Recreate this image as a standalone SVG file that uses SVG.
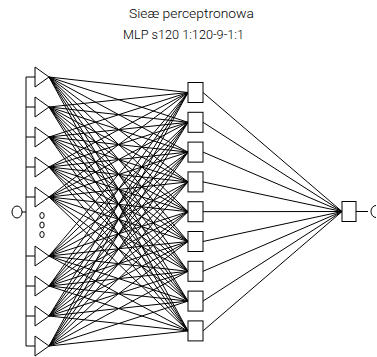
<svg xmlns="http://www.w3.org/2000/svg" width="377" height="357" viewBox="0 0 377 357">
<style>
.t{font-family:Roboto,"Liberation Sans",sans-serif;font-weight:300;font-size:12px;fill:#000}
.n{fill:#fff;stroke:#000;stroke-width:1}
.c{fill:none;stroke:#000;stroke-width:1}
</style>
<rect width="377" height="357" fill="#fff"/>
<g id="title">
<text class="t" x="129" y="18" textLength="125" lengthAdjust="spacingAndGlyphs">Sieæ perceptronowa</text>
<text class="t" x="123" y="39" textLength="121" lengthAdjust="spacingAndGlyphs">MLP s120 1:120-9-1:1</text>
</g>
<g id="connectors" class="c">
<path d="M49 77L188 92.5M49 77L188 122.3M49 77L188 152.1M49 77L188 181.9M49 77L188 211.7M49 77L188 241.5M49 77L188 271.3M49 77L188 301.1M49 77L188 330.9"/>
<path d="M49 107L188 92.5M49 107L188 122.3M49 107L188 152.1M49 107L188 181.9M49 107L188 211.7M49 107L188 241.5M49 107L188 271.3M49 107L188 301.1M49 107L188 330.9"/>
<path d="M49 137L188 92.5M49 137L188 122.3M49 137L188 152.1M49 137L188 181.9M49 137L188 211.7M49 137L188 241.5M49 137L188 271.3M49 137L188 301.1M49 137L188 330.9"/>
<path d="M49 167L188 92.5M49 167L188 122.3M49 167L188 152.1M49 167L188 181.9M49 167L188 211.7M49 167L188 241.5M49 167L188 271.3M49 167L188 301.1M49 167L188 330.9"/>
<path d="M49 197L188 92.5M49 197L188 122.3M49 197L188 152.1M49 197L188 181.9M49 197L188 211.7M49 197L188 241.5M49 197L188 271.3M49 197L188 301.1M49 197L188 330.9"/>
<path d="M49 256L188 92.5M49 256L188 122.3M49 256L188 152.1M49 256L188 181.9M49 256L188 211.7M49 256L188 241.5M49 256L188 271.3M49 256L188 301.1M49 256L188 330.9"/>
<path d="M49 286L188 92.5M49 286L188 122.3M49 286L188 152.1M49 286L188 181.9M49 286L188 211.7M49 286L188 241.5M49 286L188 271.3M49 286L188 301.1M49 286L188 330.9"/>
<path d="M49 316L188 92.5M49 316L188 122.3M49 316L188 152.1M49 316L188 181.9M49 316L188 211.7M49 316L188 241.5M49 316L188 271.3M49 316L188 301.1M49 316L188 330.9"/>
<path d="M49 346L188 92.5M49 346L188 122.3M49 346L188 152.1M49 346L188 181.9M49 346L188 211.7M49 346L188 241.5M49 346L188 271.3M49 346L188 301.1M49 346L188 330.9"/>
<path d="M203 92.5L342 211.5M203 122.3L342 211.5M203 152.1L342 211.5M203 181.9L342 211.5M203 211.7L342 211.5M203 241.5L342 211.5M203 271.3L342 211.5M203 301.1L342 211.5M203 330.9L342 211.5"/>
<path d="M26 77V346M26 77H35M26 107H35M26 137H35M26 167H35M26 197H35M26 256H35M26 286H35M26 316H35M26 346H35M22 212H26"/>
<path d="M356 211.5H368"/>
</g>
<g id="input-circle"><ellipse class="n" cx="17" cy="212" rx="5" ry="6"/></g>
<g id="ellipsis" class="c">
<ellipse cx="42" cy="215.5" rx="2.2" ry="3"/>
<ellipse cx="42" cy="225" rx="2.2" ry="3"/>
<ellipse cx="42" cy="234.5" rx="2.2" ry="3"/>
</g>
<g id="in1"><polygon class="n" points="35,67 35,87 49,77"/></g>
<g id="in2"><polygon class="n" points="35,97 35,117 49,107"/></g>
<g id="in3"><polygon class="n" points="35,127 35,147 49,137"/></g>
<g id="in4"><polygon class="n" points="35,157 35,177 49,167"/></g>
<g id="in5"><polygon class="n" points="35,187 35,207 49,197"/></g>
<g id="in6"><polygon class="n" points="35,246 35,266 49,256"/></g>
<g id="in7"><polygon class="n" points="35,276 35,296 49,286"/></g>
<g id="in8"><polygon class="n" points="35,306 35,326 49,316"/></g>
<g id="in9"><polygon class="n" points="35,336 35,356 49,346"/></g>
<g id="h1"><rect class="n" x="188" y="82.5" width="15" height="20"/></g>
<g id="h2"><rect class="n" x="188" y="112.3" width="15" height="20"/></g>
<g id="h3"><rect class="n" x="188" y="142.1" width="15" height="20"/></g>
<g id="h4"><rect class="n" x="188" y="171.9" width="15" height="20"/></g>
<g id="h5"><rect class="n" x="188" y="201.7" width="15" height="20"/></g>
<g id="h6"><rect class="n" x="188" y="231.5" width="15" height="20"/></g>
<g id="h7"><rect class="n" x="188" y="261.3" width="15" height="20"/></g>
<g id="h8"><rect class="n" x="188" y="291.1" width="15" height="20"/></g>
<g id="h9"><rect class="n" x="188" y="320.9" width="15" height="20"/></g>
<g id="out"><rect class="n" x="342" y="201.5" width="14" height="20"/></g>
<g id="output-c"><path class="c" d="M376 205.5A5 6 0 1 0 376 217.5"/></g>
</svg>
